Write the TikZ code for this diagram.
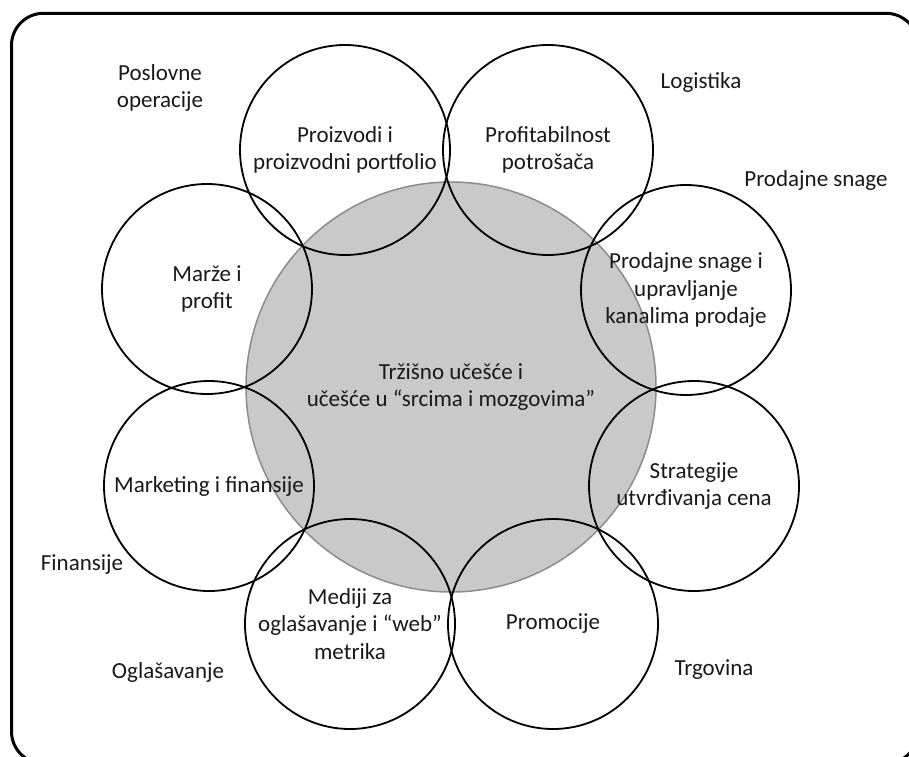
\documentclass[tikz,border=0pt]{standalone}
\usepackage{fontspec}
\setmainfont{Carlito}
\begin{document}
\begin{tikzpicture}[x=1pt,y=-1pt,
  txt/.style={font=\fontsize{23}{27.5}\selectfont, text=black!90, align=center},
  ring/.style={txt, circle, draw=black, line width=1.8pt, minimum size=210pt, inner sep=0pt},
  core/.style={txt, circle, draw=black!45, fill=black!21, line width=1.5pt, minimum size=410pt, inner sep=0pt},
  lbl/.style={txt, inner sep=0pt},
  frame/.style={draw=black, line width=3pt, rounded corners=32pt}]
\useasboundingbox (0,0) rectangle (909,756);
\draw[frame] (11.5,13.3) rectangle (918,763.5);
\node[core] (center) at (451,387) {Tržišno učešće i\\učešće u “srcima i mozgovima”};
\node[ring] (proizvodi) at (345,150) {Proizvodi i\\proizvodni portfolio};
\node[ring] (profit) at (548,150) {Profitabilnost\\potrošača};
\node[ring] (prodajne) at (686,290) {Prodajne snage i\\upravljanje\\kanalima prodaje};
\node[ring] (strategije) at (694,486) {Strategije\\utvrđivanja cena};
\node[ring] (promocije) at (553,624) {Promocije};
\node[ring] (mediji) at (350,624) {Mediji za\\oglašavanje i “web”\\metrika};
\node[ring] (marketing) at (209,486) {Marketing i finansije};
\node[ring] (marze) at (207,289) {Marže i\\profit};
\node[lbl] (l1) at (160,88) {Poslovne\\operacije};
\node[lbl] (l2) at (701,82) {Logistika};
\node[lbl] (l3) at (816,180) {Prodajne snage};
\node[lbl] (l4) at (82,565) {Finansije};
\node[lbl] (l5) at (168,672) {Oglašavanje};
\node[lbl] (l6) at (714,670) {Trgovina};
\end{tikzpicture}
\end{document}
